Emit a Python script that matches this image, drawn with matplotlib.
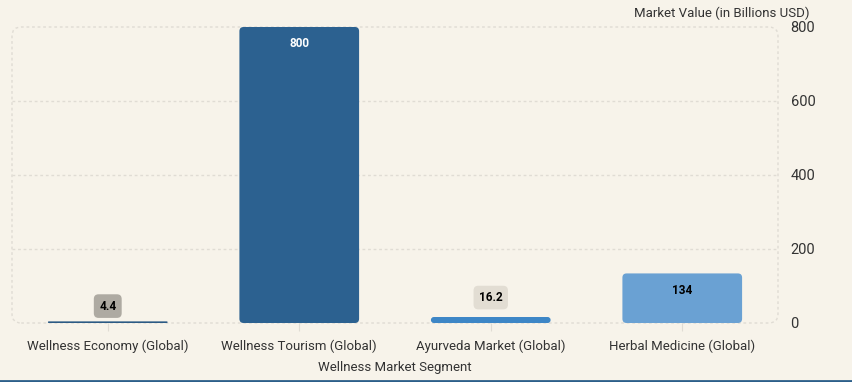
import matplotlib.pyplot as plt
from matplotlib.patches import FancyBboxPatch
from matplotlib.lines import Line2D

segments = ['Wellness Economy (Global)', 'Wellness Tourism (Global)',
            'Ayurveda Market (Global)', 'Herbal Medicine (Global)']
values = [4.4, 800, 16.2, 134]
bar_colors = ['#2b5a84', '#2c6190', '#3d86c6', '#6aa1d3']
yticks = [0, 200, 400, 600, 800]

bg = '#f7f3ea'
text_col = '#333333'
grid_col = '#e0dcd4'

plt.rcParams['font.family'] = ['Roboto', 'DejaVu Sans']

fig = plt.figure(figsize=(8.53, 3.82), dpi=100, facecolor=bg)
ax = fig.add_axes([12 / 853, 59 / 382, 766 / 853, 296 / 382])
ax.set_facecolor(bg)
ax.set_xlim(-0.5, len(segments) - 0.5)
ax.set_ylim(0, 800)

# dashed grid (800 line is the border)
for t in yticks[1:-1]:
    ax.axhline(t, color=grid_col, lw=1, ls=(0, (2, 2)), zorder=0)

# rounded dashed frame of the plot area
aw, ah = 766, 296
frame = FancyBboxPatch((0, 0), 1, 1, boxstyle='round,pad=0,rounding_size=0.012',
                       mutation_aspect=aw / ah, transform=ax.transAxes,
                       fill=False, ec=grid_col, lw=1, ls=(0, (2, 2)),
                       clip_on=False, zorder=0)
ax.add_patch(frame)
for s in ax.spines.values():
    s.set_visible(False)

bars = ax.bar(range(len(segments)), values, width=0.625, color=bar_colors)

# swap bars for rounded ones
asp = (800 / 296) / (len(segments) / 766)
for b, c in zip(bars, bar_colors):
    x, y, w, h = b.get_x(), b.get_y(), b.get_width(), b.get_height()
    r = min(0.022, (h / asp) / 2)
    p = FancyBboxPatch((x, y), w, h, boxstyle=f'round,pad=0,rounding_size={r}',
                       mutation_aspect=asp, fc=c, ec='none', zorder=2)
    ax.add_patch(p)
    b.set_visible(False)

# value labels
label_style = {
    0: dict(col='black', box='#aeaaa2', inside=False, off=11),
    1: dict(col='white', box=None, inside=True, off=-12),
    2: dict(col='black', box='#e2ddd3', inside=False, off=14),
    3: dict(col='black', box=None, inside=True, off=-12),
}
for i, v in enumerate(values):
    st = label_style[i]
    txt = f'{v:g}'
    kw = dict(xytext=(0, st['off']), textcoords='offset points', ha='center',
              va='center', fontsize=8.5, fontweight='bold', color=st['col'],
              zorder=3)
    if st['box']:
        kw['bbox'] = dict(boxstyle='round,pad=0.45,rounding_size=0.4',
                          fc=st['box'], ec='none')
    ax.annotate(txt, (i, v), **kw)

ax.set_xticks(range(len(segments)))
ax.set_xticklabels(segments, fontsize=9.5, color=text_col)
ax.tick_params(axis='x', length=6, width=0.8, color=grid_col, pad=6)

ax.yaxis.tick_right()
ax.set_yticks(yticks)
ax.set_yticklabels([str(t) for t in yticks], fontsize=10.5, color=text_col)
ax.tick_params(axis='y', length=0, pad=9)

ax.set_xlabel('Wellness Market Segment', fontsize=9.5, color=text_col, labelpad=6)
fig.text(810 / 853, 1 - 13 / 382, 'Market Value (in Billions USD)', ha='right',
         va='center', fontsize=9.5, color=text_col)

fig.add_artist(Line2D([0, 1], [1 / 382, 1 / 382], color='#2c5f8a', lw=2,
                      transform=fig.transFigure))

fig.savefig('out.png', dpi=100, facecolor=bg)
